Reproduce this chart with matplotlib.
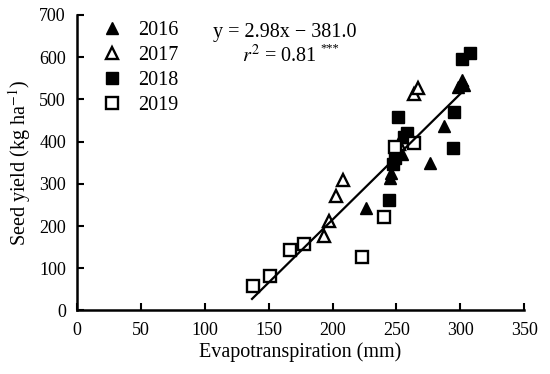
import matplotlib.pyplot as plt
import numpy as np

plt.rcParams['font.family'] = 'Liberation Serif'
plt.rcParams['mathtext.fontset'] = 'stix'

# data
et_2016 = [226, 245, 246, 254, 276, 287, 298, 301, 303]
sy_2016 = [242, 313, 325, 370, 350, 437, 530, 545, 535]
et_2017 = [193, 197, 203, 208, 252, 255, 264, 267]
sy_2017 = [176, 213, 270, 309, 395, 410, 513, 528]
et_2018 = [244, 247, 249, 251, 256, 258, 294, 295, 301, 308]
sy_2018 = [262, 348, 360, 459, 410, 420, 384, 470, 595, 609]
et_2019 = [138, 151, 167, 178, 223, 240, 249, 264]
sy_2019 = [58, 82, 142, 157, 126, 222, 388, 397]

slope = 2.98
intercept = -381.0
fit_x = [137, 306]

fig = plt.figure(figsize=(5.5, 3.74), dpi=100)
ax = fig.add_axes([0.14, 0.170, 0.813, 0.79])

ms = 9
ax.plot(et_2016, sy_2016, '^', color='black', ms=ms, ls='none', label='2016')
ax.plot(et_2017, sy_2017, '^', mfc='white', mec='black', mew=1.7, ms=ms, ls='none', label='2017')
ax.plot(et_2018, sy_2018, 's', color='black', ms=ms - 0.5, ls='none', label='2018')
ax.plot(et_2019, sy_2019, 's', mfc='white', mec='black', mew=1.7, ms=ms - 1, ls='none', label='2019')

fx = np.array(fit_x)
ax.plot(fx, slope * fx + intercept, color='black', lw=1.6)

ax.set_xlim(0, 350)
ax.set_ylim(0, 700)
ax.set_xticks(range(0, 351, 50))
ax.set_yticks(range(0, 701, 100))
ax.set_xlabel('Evapotranspiration (mm)', fontsize=14.5, labelpad=3)
ax.set_ylabel('Seed yield (kg ha$^{-1}$)', fontsize=14.5, labelpad=4)
ax.tick_params(direction='in', length=5, width=1.5, labelsize=13, pad=8)

for s in ['top', 'right']:
    ax.spines[s].set_visible(False)
for s in ['left', 'bottom']:
    ax.spines[s].set_linewidth(1.8)

ax.legend(loc='upper left', bbox_to_anchor=(0.01, 1.04), frameon=False,
          fontsize=14.5, handletextpad=0.7, labelspacing=0.28, handlelength=1.2)

ax.text(0.305, 0.925, 'y = 2.98x \u2212 381.0', transform=ax.transAxes, fontsize=14.5)
ax.text(0.37, 0.84, '$r^2$ = 0.81', transform=ax.transAxes, fontsize=14.5)
ax.text(0.544, 0.878, '***', transform=ax.transAxes, fontsize=9)

fig.savefig('out.png', dpi=100)
